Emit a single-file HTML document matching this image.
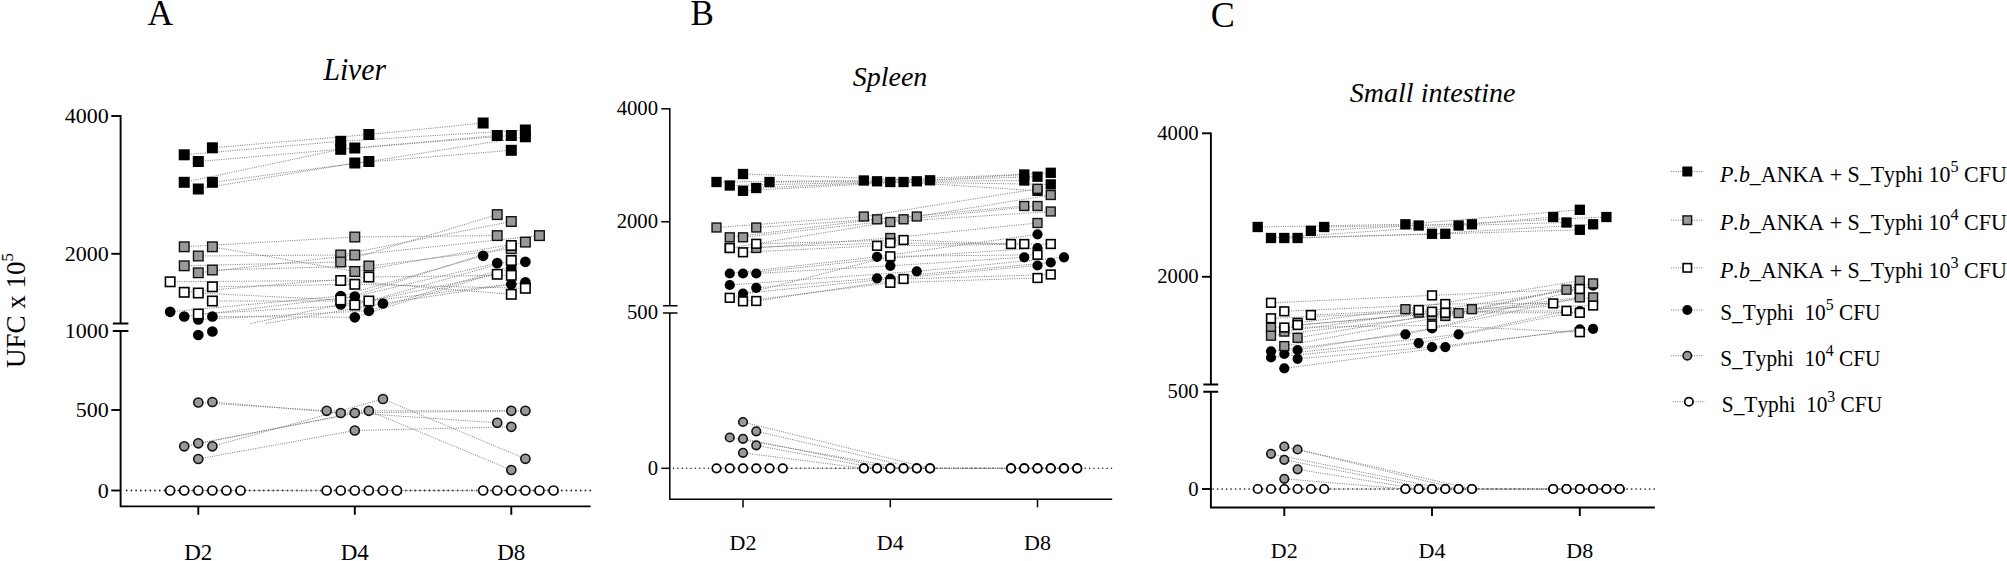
<!DOCTYPE html>
<html lang="en">
<head>
<meta charset="utf-8">
<title>UFC x 10^5 - Liver, Spleen, Small intestine</title>
<style>
html,body{margin:0;padding:0;background:#fff;}
body{width:2007px;height:561px;overflow:hidden;font-family:'Liberation Serif','DejaVu Serif',serif;}
svg{display:block;}
text{font-kerning:none;white-space:pre;}
</style>
</head>
<body>
<svg width="2007" height="561" viewBox="0 0 2007 561" font-family="'Liberation Serif', 'DejaVu Serif', serif" fill="#000">
<rect width="2007" height="561" fill="#fff"/>
<g id="panelA">
<path d="M590.2 490.5H122.6" stroke="#222" stroke-width="1.8" stroke-linecap="round" stroke-dasharray="0.01 4.72" fill="none"/>
<g><path d="M212.38 147.8L368.88 134.5M368.88 134.5L483.14 123" stroke="#7a7a7a" stroke-width="1" stroke-dasharray="1 1.3" fill="none"/><path d="M184.22 154.8L340.72 141.3M340.72 141.3L525.38 130" stroke="#7a7a7a" stroke-width="1" stroke-dasharray="1 1.3" fill="none"/><path d="M198.3 161.5L354.8 148M354.8 148L497.22 135.5" stroke="#7a7a7a" stroke-width="1" stroke-dasharray="1 1.3" fill="none"/><path d="M184.22 182.3L340.72 149.3M340.72 149.3L511.3 135.5" stroke="#7a7a7a" stroke-width="1" stroke-dasharray="1 1.3" fill="none"/><path d="M212.38 182.3L368.88 161.5M368.88 161.5L525.38 136.8" stroke="#7a7a7a" stroke-width="1" stroke-dasharray="1 1.3" fill="none"/><path d="M198.3 189L354.8 163M354.8 163L511.3 150.3" stroke="#7a7a7a" stroke-width="1" stroke-dasharray="1 1.3" fill="none"/><path d="M184.22 246.8L354.8 237M354.8 237L497.22 235.6" stroke="#7a7a7a" stroke-width="1" stroke-dasharray="1 1.3" fill="none"/><path d="M212.38 246.8L354.8 271.5M354.8 271.5L525.38 242.1" stroke="#7a7a7a" stroke-width="1" stroke-dasharray="1 1.3" fill="none"/><path d="M198.3 256L340.72 255M340.72 255L511.3 221.5" stroke="#7a7a7a" stroke-width="1" stroke-dasharray="1 1.3" fill="none"/><path d="M184.22 265.8L340.72 262M340.72 262L497.22 214.6" stroke="#7a7a7a" stroke-width="1" stroke-dasharray="1 1.3" fill="none"/><path d="M198.3 272.8L354.8 255M354.8 255L539.46 235.6" stroke="#7a7a7a" stroke-width="1" stroke-dasharray="1 1.3" fill="none"/><path d="M212.38 270L368.88 266M368.88 266L511.3 248.7" stroke="#7a7a7a" stroke-width="1" stroke-dasharray="1 1.3" fill="none"/><path d="M170.14 281.8L340.72 280.5M340.72 280.5L511.3 294.3" stroke="#7a7a7a" stroke-width="1" stroke-dasharray="1 1.3" fill="none"/><path d="M212.38 286.8L354.8 284.3M354.8 284.3L525.38 288.3" stroke="#7a7a7a" stroke-width="1" stroke-dasharray="1 1.3" fill="none"/><path d="M184.22 292.3L368.88 277M368.88 277L511.3 275.3" stroke="#7a7a7a" stroke-width="1" stroke-dasharray="1 1.3" fill="none"/><path d="M198.3 293L340.72 300M340.72 300L511.3 245.5" stroke="#7a7a7a" stroke-width="1" stroke-dasharray="1 1.3" fill="none"/><path d="M212.38 301L368.88 301M368.88 301L497.22 274.3" stroke="#7a7a7a" stroke-width="1" stroke-dasharray="1 1.3" fill="none"/><path d="M198.3 314L354.8 305M354.8 305L511.3 260.5" stroke="#7a7a7a" stroke-width="1" stroke-dasharray="1 1.3" fill="none"/><path d="M170.14 311.8L340.72 296M340.72 296L483.14 255.8" stroke="#7a7a7a" stroke-width="1" stroke-dasharray="1 1.3" fill="none"/><path d="M184.22 316.5L354.8 296.5M354.8 296.5L497.22 263.1" stroke="#7a7a7a" stroke-width="1" stroke-dasharray="1 1.3" fill="none"/><path d="M198.3 319.5L368.88 310.8M368.88 310.8L525.38 261.8" stroke="#7a7a7a" stroke-width="1" stroke-dasharray="1 1.3" fill="none"/><path d="M212.38 316.5L354.8 317.3M354.8 317.3L511.3 268" stroke="#7a7a7a" stroke-width="1" stroke-dasharray="1 1.3" fill="none"/><path d="M250.41 323.5L340.72 304.5M340.72 304.5L525.38 282.4" stroke="#7a7a7a" stroke-width="1" stroke-dasharray="1 1.3" fill="none"/><path d="M265.72 323.5L382.96 303.5M382.96 303.5L511.3 284.2" stroke="#7a7a7a" stroke-width="1" stroke-dasharray="1 1.3" fill="none"/><path d="M198.3 402.5L326.64 410.8M326.64 410.8L511.3 410.8" stroke="#7a7a7a" stroke-width="1" stroke-dasharray="1 1.3" fill="none"/><path d="M212.38 402L340.72 413M340.72 413L525.38 410.8" stroke="#7a7a7a" stroke-width="1" stroke-dasharray="1 1.3" fill="none"/><path d="M184.22 446.3L354.8 413M354.8 413L497.22 422.8" stroke="#7a7a7a" stroke-width="1" stroke-dasharray="1 1.3" fill="none"/><path d="M198.3 443.3L368.88 410.8M368.88 410.8L511.3 470" stroke="#7a7a7a" stroke-width="1" stroke-dasharray="1 1.3" fill="none"/><path d="M212.38 446.3L382.96 399M382.96 399L525.38 458.8" stroke="#7a7a7a" stroke-width="1" stroke-dasharray="1 1.3" fill="none"/><path d="M198.3 459L354.8 430.5M354.8 430.5L511.3 426.8" stroke="#7a7a7a" stroke-width="1" stroke-dasharray="1 1.3" fill="none"/><path d="M170.14 490.5H553.54" stroke="#7a7a7a" stroke-width="1" stroke-dasharray="1 1.3" fill="none"/></g>
<g><circle cx="170.14" cy="311.8" r="5.35" fill="#000"/><circle cx="184.22" cy="316.5" r="5.35" fill="#000"/><circle cx="198.3" cy="319.5" r="5.35" fill="#000"/><circle cx="212.38" cy="316.5" r="5.35" fill="#000"/><circle cx="212.38" cy="331.5" r="5.35" fill="#000"/><circle cx="198.3" cy="335" r="5.35" fill="#000"/><circle cx="340.72" cy="296" r="5.35" fill="#000"/><circle cx="354.8" cy="296.5" r="5.35" fill="#000"/><circle cx="340.72" cy="304.5" r="5.35" fill="#000"/><circle cx="382.96" cy="303.5" r="5.35" fill="#000"/><circle cx="368.88" cy="310.8" r="5.35" fill="#000"/><circle cx="354.8" cy="317.3" r="5.35" fill="#000"/><circle cx="483.14" cy="255.8" r="5.35" fill="#000"/><circle cx="497.22" cy="263.1" r="5.35" fill="#000"/><circle cx="525.38" cy="261.8" r="5.35" fill="#000"/><circle cx="511.3" cy="268" r="5.35" fill="#000"/><circle cx="525.38" cy="282.4" r="5.35" fill="#000"/><circle cx="511.3" cy="284.2" r="5.35" fill="#000"/></g>
<g><circle cx="198.3" cy="402.5" r="4.55" fill="#999" stroke="#111" stroke-width="1.6"/><circle cx="212.38" cy="402" r="4.55" fill="#999" stroke="#111" stroke-width="1.6"/><circle cx="184.22" cy="446.3" r="4.55" fill="#999" stroke="#111" stroke-width="1.6"/><circle cx="198.3" cy="443.3" r="4.55" fill="#999" stroke="#111" stroke-width="1.6"/><circle cx="212.38" cy="446.3" r="4.55" fill="#999" stroke="#111" stroke-width="1.6"/><circle cx="198.3" cy="459" r="4.55" fill="#999" stroke="#111" stroke-width="1.6"/><circle cx="326.64" cy="410.8" r="4.55" fill="#999" stroke="#111" stroke-width="1.6"/><circle cx="340.72" cy="413" r="4.55" fill="#999" stroke="#111" stroke-width="1.6"/><circle cx="354.8" cy="413" r="4.55" fill="#999" stroke="#111" stroke-width="1.6"/><circle cx="368.88" cy="410.8" r="4.55" fill="#999" stroke="#111" stroke-width="1.6"/><circle cx="382.96" cy="399" r="4.55" fill="#999" stroke="#111" stroke-width="1.6"/><circle cx="354.8" cy="430.5" r="4.55" fill="#999" stroke="#111" stroke-width="1.6"/><circle cx="511.3" cy="410.8" r="4.55" fill="#999" stroke="#111" stroke-width="1.6"/><circle cx="525.38" cy="410.8" r="4.55" fill="#999" stroke="#111" stroke-width="1.6"/><circle cx="497.22" cy="422.8" r="4.55" fill="#999" stroke="#111" stroke-width="1.6"/><circle cx="511.3" cy="426.8" r="4.55" fill="#999" stroke="#111" stroke-width="1.6"/><circle cx="525.38" cy="458.8" r="4.55" fill="#999" stroke="#111" stroke-width="1.6"/><circle cx="511.3" cy="470" r="4.55" fill="#999" stroke="#111" stroke-width="1.6"/></g>
<g><circle cx="170.14" cy="490.5" r="4.5" fill="#fff" stroke="#000" stroke-width="1.7"/><circle cx="184.22" cy="490.5" r="4.5" fill="#fff" stroke="#000" stroke-width="1.7"/><circle cx="198.3" cy="490.5" r="4.5" fill="#fff" stroke="#000" stroke-width="1.7"/><circle cx="212.38" cy="490.5" r="4.5" fill="#fff" stroke="#000" stroke-width="1.7"/><circle cx="226.46" cy="490.5" r="4.5" fill="#fff" stroke="#000" stroke-width="1.7"/><circle cx="240.54" cy="490.5" r="4.5" fill="#fff" stroke="#000" stroke-width="1.7"/><circle cx="326.64" cy="490.5" r="4.5" fill="#fff" stroke="#000" stroke-width="1.7"/><circle cx="340.72" cy="490.5" r="4.5" fill="#fff" stroke="#000" stroke-width="1.7"/><circle cx="354.8" cy="490.5" r="4.5" fill="#fff" stroke="#000" stroke-width="1.7"/><circle cx="368.88" cy="490.5" r="4.5" fill="#fff" stroke="#000" stroke-width="1.7"/><circle cx="382.96" cy="490.5" r="4.5" fill="#fff" stroke="#000" stroke-width="1.7"/><circle cx="397.04" cy="490.5" r="4.5" fill="#fff" stroke="#000" stroke-width="1.7"/><circle cx="483.14" cy="490.5" r="4.5" fill="#fff" stroke="#000" stroke-width="1.7"/><circle cx="497.22" cy="490.5" r="4.5" fill="#fff" stroke="#000" stroke-width="1.7"/><circle cx="511.3" cy="490.5" r="4.5" fill="#fff" stroke="#000" stroke-width="1.7"/><circle cx="525.38" cy="490.5" r="4.5" fill="#fff" stroke="#000" stroke-width="1.7"/><circle cx="539.46" cy="490.5" r="4.5" fill="#fff" stroke="#000" stroke-width="1.7"/><circle cx="553.54" cy="490.5" r="4.5" fill="#fff" stroke="#000" stroke-width="1.7"/></g>
<g><rect x="178.72" y="149.3" width="11" height="11" fill="#000"/><rect x="192.8" y="156" width="11" height="11" fill="#000"/><rect x="206.88" y="142.3" width="11" height="11" fill="#000"/><rect x="178.72" y="176.8" width="11" height="11" fill="#000"/><rect x="192.8" y="183.5" width="11" height="11" fill="#000"/><rect x="206.88" y="176.8" width="11" height="11" fill="#000"/><rect x="335.22" y="135.8" width="11" height="11" fill="#000"/><rect x="335.22" y="143.8" width="11" height="11" fill="#000"/><rect x="349.3" y="142.5" width="11" height="11" fill="#000"/><rect x="363.38" y="129" width="11" height="11" fill="#000"/><rect x="349.3" y="157.5" width="11" height="11" fill="#000"/><rect x="363.38" y="156" width="11" height="11" fill="#000"/><rect x="477.64" y="117.5" width="11" height="11" fill="#000"/><rect x="491.72" y="130" width="11" height="11" fill="#000"/><rect x="505.8" y="130" width="11" height="11" fill="#000"/><rect x="519.88" y="124.5" width="11" height="11" fill="#000"/><rect x="519.88" y="131.3" width="11" height="11" fill="#000"/><rect x="505.8" y="144.8" width="11" height="11" fill="#000"/></g>
<g><rect x="179.42" y="242" width="9.6" height="9.6" fill="#999" stroke="#111" stroke-width="1.4"/><rect x="193.5" y="251.2" width="9.6" height="9.6" fill="#999" stroke="#111" stroke-width="1.4"/><rect x="207.58" y="242" width="9.6" height="9.6" fill="#999" stroke="#111" stroke-width="1.4"/><rect x="179.42" y="261" width="9.6" height="9.6" fill="#999" stroke="#111" stroke-width="1.4"/><rect x="193.5" y="268" width="9.6" height="9.6" fill="#999" stroke="#111" stroke-width="1.4"/><rect x="207.58" y="265.2" width="9.6" height="9.6" fill="#999" stroke="#111" stroke-width="1.4"/><rect x="350" y="232.2" width="9.6" height="9.6" fill="#999" stroke="#111" stroke-width="1.4"/><rect x="335.92" y="250.2" width="9.6" height="9.6" fill="#999" stroke="#111" stroke-width="1.4"/><rect x="350" y="250.2" width="9.6" height="9.6" fill="#999" stroke="#111" stroke-width="1.4"/><rect x="335.92" y="257.2" width="9.6" height="9.6" fill="#999" stroke="#111" stroke-width="1.4"/><rect x="350" y="266.7" width="9.6" height="9.6" fill="#999" stroke="#111" stroke-width="1.4"/><rect x="364.08" y="261.2" width="9.6" height="9.6" fill="#999" stroke="#111" stroke-width="1.4"/><rect x="492.42" y="209.8" width="9.6" height="9.6" fill="#999" stroke="#111" stroke-width="1.4"/><rect x="506.5" y="216.7" width="9.6" height="9.6" fill="#999" stroke="#111" stroke-width="1.4"/><rect x="492.42" y="230.8" width="9.6" height="9.6" fill="#999" stroke="#111" stroke-width="1.4"/><rect x="534.66" y="230.8" width="9.6" height="9.6" fill="#999" stroke="#111" stroke-width="1.4"/><rect x="520.58" y="237.3" width="9.6" height="9.6" fill="#999" stroke="#111" stroke-width="1.4"/><rect x="506.5" y="243.9" width="9.6" height="9.6" fill="#999" stroke="#111" stroke-width="1.4"/></g>
<g><rect x="165.44" y="277.1" width="9.4" height="9.4" fill="#fff" stroke="#000" stroke-width="1.6"/><rect x="179.52" y="287.6" width="9.4" height="9.4" fill="#fff" stroke="#000" stroke-width="1.6"/><rect x="193.6" y="288.3" width="9.4" height="9.4" fill="#fff" stroke="#000" stroke-width="1.6"/><rect x="207.68" y="282.1" width="9.4" height="9.4" fill="#fff" stroke="#000" stroke-width="1.6"/><rect x="207.68" y="296.3" width="9.4" height="9.4" fill="#fff" stroke="#000" stroke-width="1.6"/><rect x="193.6" y="309.3" width="9.4" height="9.4" fill="#fff" stroke="#000" stroke-width="1.6"/><rect x="336.02" y="275.8" width="9.4" height="9.4" fill="#fff" stroke="#000" stroke-width="1.6"/><rect x="350.1" y="279.6" width="9.4" height="9.4" fill="#fff" stroke="#000" stroke-width="1.6"/><rect x="364.18" y="272.3" width="9.4" height="9.4" fill="#fff" stroke="#000" stroke-width="1.6"/><rect x="336.02" y="295.3" width="9.4" height="9.4" fill="#fff" stroke="#000" stroke-width="1.6"/><rect x="350.1" y="300.3" width="9.4" height="9.4" fill="#fff" stroke="#000" stroke-width="1.6"/><rect x="364.18" y="296.3" width="9.4" height="9.4" fill="#fff" stroke="#000" stroke-width="1.6"/><rect x="506.6" y="240.8" width="9.4" height="9.4" fill="#fff" stroke="#000" stroke-width="1.6"/><rect x="506.6" y="255.8" width="9.4" height="9.4" fill="#fff" stroke="#000" stroke-width="1.6"/><rect x="492.52" y="269.6" width="9.4" height="9.4" fill="#fff" stroke="#000" stroke-width="1.6"/><rect x="506.6" y="270.6" width="9.4" height="9.4" fill="#fff" stroke="#000" stroke-width="1.6"/><rect x="520.68" y="283.6" width="9.4" height="9.4" fill="#fff" stroke="#000" stroke-width="1.6"/><rect x="506.6" y="289.6" width="9.4" height="9.4" fill="#fff" stroke="#000" stroke-width="1.6"/></g>
<path d="M120.6 115.05V323.5M120.6 331V506.4H590.6" stroke="#000" stroke-width="1.9" fill="none" stroke-linejoin="miter"/>
<path d="M112.8 323.5H128.4M112.8 331H128.4" stroke="#000" stroke-width="1.9" fill="none"/>
<line x1="111.3" y1="116" x2="120.6" y2="116" stroke="#000" stroke-width="1.9"/>
<text x="108.7" y="123" font-size="22" text-anchor="end">4000</text>
<line x1="111.3" y1="253.8" x2="120.6" y2="253.8" stroke="#000" stroke-width="1.9"/>
<text x="108.7" y="260.8" font-size="22" text-anchor="end">2000</text>
<text x="108.7" y="337.8" font-size="22" text-anchor="end">1000</text>
<line x1="111.3" y1="410" x2="120.6" y2="410" stroke="#000" stroke-width="1.9"/>
<text x="108.7" y="417" font-size="22" text-anchor="end">500</text>
<line x1="111.3" y1="490.5" x2="120.6" y2="490.5" stroke="#000" stroke-width="1.9"/>
<text x="108.7" y="497.5" font-size="22" text-anchor="end">0</text>
<line x1="198.3" y1="506.4" x2="198.3" y2="514.8" stroke="#000" stroke-width="1.9"/>
<text x="198.3" y="559.8" font-size="23" text-anchor="middle">D2</text>
<line x1="354.8" y1="506.4" x2="354.8" y2="514.8" stroke="#000" stroke-width="1.9"/>
<text x="354.8" y="559.8" font-size="23" text-anchor="middle">D4</text>
<line x1="511.3" y1="506.4" x2="511.3" y2="514.8" stroke="#000" stroke-width="1.9"/>
<text x="511.3" y="559.8" font-size="23" text-anchor="middle">D8</text>
</g>
<g id="panelB">
<path d="M1111.5 468.3H671.8" stroke="#222" stroke-width="1.5" stroke-linecap="round" stroke-dasharray="0.01 4.37" fill="none"/>
<g><path d="M743 174L930.05 180.3M930.05 180.3L1050.75 172.8" stroke="#7a7a7a" stroke-width="1" stroke-dasharray="1 1.3" fill="none"/><path d="M716.5 182L863.8 180.5M863.8 180.5L1024.25 174.5" stroke="#7a7a7a" stroke-width="1" stroke-dasharray="1 1.3" fill="none"/><path d="M769.5 182L877.05 181.3M877.05 181.3L1037.5 176.7" stroke="#7a7a7a" stroke-width="1" stroke-dasharray="1 1.3" fill="none"/><path d="M729.75 185.5L916.8 181.3M916.8 181.3L1024.25 180.5" stroke="#7a7a7a" stroke-width="1" stroke-dasharray="1 1.3" fill="none"/><path d="M756.25 188L890.3 182M890.3 182L1050.75 184.4" stroke="#7a7a7a" stroke-width="1" stroke-dasharray="1 1.3" fill="none"/><path d="M743 190.8L903.55 182M903.55 182L1037.5 190.8" stroke="#7a7a7a" stroke-width="1" stroke-dasharray="1 1.3" fill="none"/><path d="M716.5 227.5L863.8 216.5M863.8 216.5L1037.5 188.8" stroke="#7a7a7a" stroke-width="1" stroke-dasharray="1 1.3" fill="none"/><path d="M756.25 227.5L916.8 216.5M916.8 216.5L1050.75 195" stroke="#7a7a7a" stroke-width="1" stroke-dasharray="1 1.3" fill="none"/><path d="M729.75 237.3L877.05 219.3M877.05 219.3L1024.25 206" stroke="#7a7a7a" stroke-width="1" stroke-dasharray="1 1.3" fill="none"/><path d="M743 237.3L903.55 219.3M903.55 219.3L1037.5 206" stroke="#7a7a7a" stroke-width="1" stroke-dasharray="1 1.3" fill="none"/><path d="M729.75 248L890.3 222M890.3 222L1050.75 211.5" stroke="#7a7a7a" stroke-width="1" stroke-dasharray="1 1.3" fill="none"/><path d="M756.25 248L890.3 238M890.3 238L1037.5 223" stroke="#7a7a7a" stroke-width="1" stroke-dasharray="1 1.3" fill="none"/><path d="M756.25 243.8L903.55 240M903.55 240L1011 244" stroke="#7a7a7a" stroke-width="1" stroke-dasharray="1 1.3" fill="none"/><path d="M729.75 248L890.3 243M890.3 243L1024.25 244" stroke="#7a7a7a" stroke-width="1" stroke-dasharray="1 1.3" fill="none"/><path d="M743 252.3L877.05 245.8M877.05 245.8L1050.75 244" stroke="#7a7a7a" stroke-width="1" stroke-dasharray="1 1.3" fill="none"/><path d="M729.75 297.8L890.3 256.3M890.3 256.3L1037.5 254.8" stroke="#7a7a7a" stroke-width="1" stroke-dasharray="1 1.3" fill="none"/><path d="M756.25 301L903.55 279M903.55 279L1050.75 274.5" stroke="#7a7a7a" stroke-width="1" stroke-dasharray="1 1.3" fill="none"/><path d="M743 301.3L890.3 282.8M890.3 282.8L1037.5 278" stroke="#7a7a7a" stroke-width="1" stroke-dasharray="1 1.3" fill="none"/><path d="M729.75 273.5L877.05 256.8M877.05 256.8L1037.5 234.3" stroke="#7a7a7a" stroke-width="1" stroke-dasharray="1 1.3" fill="none"/><path d="M743 273.5L890.3 258M890.3 258L1037.5 248" stroke="#7a7a7a" stroke-width="1" stroke-dasharray="1 1.3" fill="none"/><path d="M756.25 273.5L890.3 265.8M890.3 265.8L1024.25 257.3" stroke="#7a7a7a" stroke-width="1" stroke-dasharray="1 1.3" fill="none"/><path d="M729.75 285L916.8 271.3M916.8 271.3L1064 257.3" stroke="#7a7a7a" stroke-width="1" stroke-dasharray="1 1.3" fill="none"/><path d="M756.25 287.8L877.05 278.3M877.05 278.3L1050.75 262.5" stroke="#7a7a7a" stroke-width="1" stroke-dasharray="1 1.3" fill="none"/><path d="M743 293.5L890.3 278.8M890.3 278.8L1037.5 265.5" stroke="#7a7a7a" stroke-width="1" stroke-dasharray="1 1.3" fill="none"/><path d="M743 422L930.05 468.3M930.05 468.3L1077.25 468.3" stroke="#7a7a7a" stroke-width="1" stroke-dasharray="1 1.3" fill="none"/><path d="M756.25 431.3L916.8 468.3M916.8 468.3L1064 468.3" stroke="#7a7a7a" stroke-width="1" stroke-dasharray="1 1.3" fill="none"/><path d="M729.75 437.5L903.55 468.3" stroke="#7a7a7a" stroke-width="1" stroke-dasharray="1 1.3" fill="none"/><path d="M743 438.8L890.3 468.3" stroke="#7a7a7a" stroke-width="1" stroke-dasharray="1 1.3" fill="none"/><path d="M756.25 445.3L877.05 468.3" stroke="#7a7a7a" stroke-width="1" stroke-dasharray="1 1.3" fill="none"/><path d="M743 452.8L863.8 468.3" stroke="#7a7a7a" stroke-width="1" stroke-dasharray="1 1.3" fill="none"/><path d="M716.5 468.3H1077.25" stroke="#7a7a7a" stroke-width="1" stroke-dasharray="1 1.3" fill="none"/></g>
<g><circle cx="729.75" cy="273.5" r="5.1" fill="#000"/><circle cx="743" cy="273.5" r="5.1" fill="#000"/><circle cx="756.25" cy="273.5" r="5.1" fill="#000"/><circle cx="729.75" cy="285" r="5.1" fill="#000"/><circle cx="756.25" cy="287.8" r="5.1" fill="#000"/><circle cx="743" cy="293.5" r="5.1" fill="#000"/><circle cx="877.05" cy="256.8" r="5.1" fill="#000"/><circle cx="890.3" cy="265.8" r="5.1" fill="#000"/><circle cx="916.8" cy="271.3" r="5.1" fill="#000"/><circle cx="877.05" cy="278.3" r="5.1" fill="#000"/><circle cx="890.3" cy="278.8" r="5.1" fill="#000"/><circle cx="890.3" cy="258" r="5.1" fill="#000"/><circle cx="1037.5" cy="234.3" r="5.1" fill="#000"/><circle cx="1037.5" cy="248" r="5.1" fill="#000"/><circle cx="1024.25" cy="257.3" r="5.1" fill="#000"/><circle cx="1064" cy="257.3" r="5.1" fill="#000"/><circle cx="1050.75" cy="262.5" r="5.1" fill="#000"/><circle cx="1037.5" cy="265.5" r="5.1" fill="#000"/></g>
<g><circle cx="743" cy="422" r="4.3" fill="#999" stroke="#111" stroke-width="1.6"/><circle cx="756.25" cy="431.3" r="4.3" fill="#999" stroke="#111" stroke-width="1.6"/><circle cx="729.75" cy="437.5" r="4.3" fill="#999" stroke="#111" stroke-width="1.6"/><circle cx="743" cy="438.8" r="4.3" fill="#999" stroke="#111" stroke-width="1.6"/><circle cx="756.25" cy="445.3" r="4.3" fill="#999" stroke="#111" stroke-width="1.6"/><circle cx="743" cy="452.8" r="4.3" fill="#999" stroke="#111" stroke-width="1.6"/><circle cx="863.8" cy="468.3" r="4.3" fill="#999" stroke="#111" stroke-width="1.6"/><circle cx="877.05" cy="468.3" r="4.3" fill="#999" stroke="#111" stroke-width="1.6"/><circle cx="890.3" cy="468.3" r="4.3" fill="#999" stroke="#111" stroke-width="1.6"/><circle cx="903.55" cy="468.3" r="4.3" fill="#999" stroke="#111" stroke-width="1.6"/><circle cx="916.8" cy="468.3" r="4.3" fill="#999" stroke="#111" stroke-width="1.6"/><circle cx="930.05" cy="468.3" r="4.3" fill="#999" stroke="#111" stroke-width="1.6"/><circle cx="1011" cy="468.3" r="4.3" fill="#999" stroke="#111" stroke-width="1.6"/><circle cx="1024.25" cy="468.3" r="4.3" fill="#999" stroke="#111" stroke-width="1.6"/><circle cx="1037.5" cy="468.3" r="4.3" fill="#999" stroke="#111" stroke-width="1.6"/><circle cx="1050.75" cy="468.3" r="4.3" fill="#999" stroke="#111" stroke-width="1.6"/><circle cx="1064" cy="468.3" r="4.3" fill="#999" stroke="#111" stroke-width="1.6"/><circle cx="1077.25" cy="468.3" r="4.3" fill="#999" stroke="#111" stroke-width="1.6"/></g>
<g><circle cx="716.5" cy="468.3" r="4.25" fill="#fff" stroke="#000" stroke-width="1.7"/><circle cx="729.75" cy="468.3" r="4.25" fill="#fff" stroke="#000" stroke-width="1.7"/><circle cx="743" cy="468.3" r="4.25" fill="#fff" stroke="#000" stroke-width="1.7"/><circle cx="756.25" cy="468.3" r="4.25" fill="#fff" stroke="#000" stroke-width="1.7"/><circle cx="769.5" cy="468.3" r="4.25" fill="#fff" stroke="#000" stroke-width="1.7"/><circle cx="782.75" cy="468.3" r="4.25" fill="#fff" stroke="#000" stroke-width="1.7"/><circle cx="863.8" cy="468.3" r="4.25" fill="#fff" stroke="#000" stroke-width="1.7"/><circle cx="877.05" cy="468.3" r="4.25" fill="#fff" stroke="#000" stroke-width="1.7"/><circle cx="890.3" cy="468.3" r="4.25" fill="#fff" stroke="#000" stroke-width="1.7"/><circle cx="903.55" cy="468.3" r="4.25" fill="#fff" stroke="#000" stroke-width="1.7"/><circle cx="916.8" cy="468.3" r="4.25" fill="#fff" stroke="#000" stroke-width="1.7"/><circle cx="930.05" cy="468.3" r="4.25" fill="#fff" stroke="#000" stroke-width="1.7"/><circle cx="1011" cy="468.3" r="4.25" fill="#fff" stroke="#000" stroke-width="1.7"/><circle cx="1024.25" cy="468.3" r="4.25" fill="#fff" stroke="#000" stroke-width="1.7"/><circle cx="1037.5" cy="468.3" r="4.25" fill="#fff" stroke="#000" stroke-width="1.7"/><circle cx="1050.75" cy="468.3" r="4.25" fill="#fff" stroke="#000" stroke-width="1.7"/><circle cx="1064" cy="468.3" r="4.25" fill="#fff" stroke="#000" stroke-width="1.7"/><circle cx="1077.25" cy="468.3" r="4.25" fill="#fff" stroke="#000" stroke-width="1.7"/></g>
<g><rect x="711.35" y="176.85" width="10.3" height="10.3" fill="#000"/><rect x="724.6" y="180.35" width="10.3" height="10.3" fill="#000"/><rect x="737.85" y="168.85" width="10.3" height="10.3" fill="#000"/><rect x="737.85" y="185.65" width="10.3" height="10.3" fill="#000"/><rect x="751.1" y="182.85" width="10.3" height="10.3" fill="#000"/><rect x="764.35" y="176.85" width="10.3" height="10.3" fill="#000"/><rect x="858.65" y="175.35" width="10.3" height="10.3" fill="#000"/><rect x="871.9" y="176.15" width="10.3" height="10.3" fill="#000"/><rect x="885.15" y="176.85" width="10.3" height="10.3" fill="#000"/><rect x="898.4" y="176.85" width="10.3" height="10.3" fill="#000"/><rect x="911.65" y="176.15" width="10.3" height="10.3" fill="#000"/><rect x="924.9" y="175.15" width="10.3" height="10.3" fill="#000"/><rect x="1019.1" y="169.35" width="10.3" height="10.3" fill="#000"/><rect x="1019.1" y="175.35" width="10.3" height="10.3" fill="#000"/><rect x="1032.35" y="171.55" width="10.3" height="10.3" fill="#000"/><rect x="1045.6" y="167.65" width="10.3" height="10.3" fill="#000"/><rect x="1045.6" y="179.25" width="10.3" height="10.3" fill="#000"/><rect x="1032.35" y="185.65" width="10.3" height="10.3" fill="#000"/></g>
<g><rect x="712.05" y="223.05" width="8.9" height="8.9" fill="#999" stroke="#111" stroke-width="1.4"/><rect x="751.8" y="223.05" width="8.9" height="8.9" fill="#999" stroke="#111" stroke-width="1.4"/><rect x="725.3" y="232.85" width="8.9" height="8.9" fill="#999" stroke="#111" stroke-width="1.4"/><rect x="738.55" y="232.85" width="8.9" height="8.9" fill="#999" stroke="#111" stroke-width="1.4"/><rect x="751.8" y="243.55" width="8.9" height="8.9" fill="#999" stroke="#111" stroke-width="1.4"/><rect x="725.3" y="243.55" width="8.9" height="8.9" fill="#999" stroke="#111" stroke-width="1.4"/><rect x="859.35" y="212.05" width="8.9" height="8.9" fill="#999" stroke="#111" stroke-width="1.4"/><rect x="872.6" y="214.85" width="8.9" height="8.9" fill="#999" stroke="#111" stroke-width="1.4"/><rect x="885.85" y="217.55" width="8.9" height="8.9" fill="#999" stroke="#111" stroke-width="1.4"/><rect x="899.1" y="214.85" width="8.9" height="8.9" fill="#999" stroke="#111" stroke-width="1.4"/><rect x="912.35" y="212.05" width="8.9" height="8.9" fill="#999" stroke="#111" stroke-width="1.4"/><rect x="885.85" y="233.55" width="8.9" height="8.9" fill="#999" stroke="#111" stroke-width="1.4"/><rect x="1033.05" y="184.35" width="8.9" height="8.9" fill="#999" stroke="#111" stroke-width="1.4"/><rect x="1046.3" y="190.55" width="8.9" height="8.9" fill="#999" stroke="#111" stroke-width="1.4"/><rect x="1019.8" y="201.55" width="8.9" height="8.9" fill="#999" stroke="#111" stroke-width="1.4"/><rect x="1033.05" y="201.55" width="8.9" height="8.9" fill="#999" stroke="#111" stroke-width="1.4"/><rect x="1046.3" y="207.05" width="8.9" height="8.9" fill="#999" stroke="#111" stroke-width="1.4"/><rect x="1033.05" y="218.55" width="8.9" height="8.9" fill="#999" stroke="#111" stroke-width="1.4"/></g>
<g><rect x="725.4" y="243.65" width="8.7" height="8.7" fill="#fff" stroke="#000" stroke-width="1.6"/><rect x="738.65" y="247.95" width="8.7" height="8.7" fill="#fff" stroke="#000" stroke-width="1.6"/><rect x="751.9" y="239.45" width="8.7" height="8.7" fill="#fff" stroke="#000" stroke-width="1.6"/><rect x="725.4" y="293.45" width="8.7" height="8.7" fill="#fff" stroke="#000" stroke-width="1.6"/><rect x="738.65" y="296.95" width="8.7" height="8.7" fill="#fff" stroke="#000" stroke-width="1.6"/><rect x="751.9" y="296.65" width="8.7" height="8.7" fill="#fff" stroke="#000" stroke-width="1.6"/><rect x="872.7" y="241.45" width="8.7" height="8.7" fill="#fff" stroke="#000" stroke-width="1.6"/><rect x="885.95" y="238.65" width="8.7" height="8.7" fill="#fff" stroke="#000" stroke-width="1.6"/><rect x="899.2" y="235.65" width="8.7" height="8.7" fill="#fff" stroke="#000" stroke-width="1.6"/><rect x="885.95" y="251.95" width="8.7" height="8.7" fill="#fff" stroke="#000" stroke-width="1.6"/><rect x="885.95" y="278.45" width="8.7" height="8.7" fill="#fff" stroke="#000" stroke-width="1.6"/><rect x="899.2" y="274.65" width="8.7" height="8.7" fill="#fff" stroke="#000" stroke-width="1.6"/><rect x="1006.65" y="239.65" width="8.7" height="8.7" fill="#fff" stroke="#000" stroke-width="1.6"/><rect x="1019.9" y="239.65" width="8.7" height="8.7" fill="#fff" stroke="#000" stroke-width="1.6"/><rect x="1046.4" y="239.65" width="8.7" height="8.7" fill="#fff" stroke="#000" stroke-width="1.6"/><rect x="1033.15" y="250.45" width="8.7" height="8.7" fill="#fff" stroke="#000" stroke-width="1.6"/><rect x="1033.15" y="273.65" width="8.7" height="8.7" fill="#fff" stroke="#000" stroke-width="1.6"/><rect x="1046.4" y="270.15" width="8.7" height="8.7" fill="#fff" stroke="#000" stroke-width="1.6"/></g>
<path d="M669.8 108.05V305.8M669.8 313V499.2H1112.2" stroke="#000" stroke-width="1.5" fill="none" stroke-linejoin="miter"/>
<path d="M663 305.8H677.5M663 313H677.5" stroke="#000" stroke-width="1.5" fill="none"/>
<line x1="661.3" y1="108.8" x2="669.8" y2="108.8" stroke="#000" stroke-width="1.5"/>
<text x="658" y="115.2" font-size="20.7" text-anchor="end">4000</text>
<line x1="661.3" y1="221.8" x2="669.8" y2="221.8" stroke="#000" stroke-width="1.5"/>
<text x="658" y="228.2" font-size="20.7" text-anchor="end">2000</text>
<text x="658" y="319.4" font-size="20.7" text-anchor="end">500</text>
<line x1="661.3" y1="468.3" x2="669.8" y2="468.3" stroke="#000" stroke-width="1.5"/>
<text x="658" y="474.7" font-size="20.7" text-anchor="end">0</text>
<line x1="743" y1="499.2" x2="743" y2="507.4" stroke="#000" stroke-width="1.5"/>
<text x="743" y="549.5" font-size="22" text-anchor="middle">D2</text>
<line x1="890.3" y1="499.2" x2="890.3" y2="507.4" stroke="#000" stroke-width="1.5"/>
<text x="890.3" y="549.5" font-size="22" text-anchor="middle">D4</text>
<line x1="1037.5" y1="499.2" x2="1037.5" y2="507.4" stroke="#000" stroke-width="1.5"/>
<text x="1037.5" y="549.5" font-size="22" text-anchor="middle">D8</text>
</g>
<g id="panelC">
<path d="M1654.1 489H1212.9" stroke="#222" stroke-width="1.7" stroke-linecap="round" stroke-dasharray="0.01 4.49" fill="none"/>
<g><path d="M1257.7 227L1405.4 224.3M1405.4 224.3L1579.8 209.8" stroke="#7a7a7a" stroke-width="1" stroke-dasharray="1 1.3" fill="none"/><path d="M1324.2 227L1471.9 224.3M1471.9 224.3L1553.2 217" stroke="#7a7a7a" stroke-width="1" stroke-dasharray="1 1.3" fill="none"/><path d="M1310.9 230.8L1418.7 225.5M1418.7 225.5L1606.4 217" stroke="#7a7a7a" stroke-width="1" stroke-dasharray="1 1.3" fill="none"/><path d="M1271 238L1458.6 225.5M1458.6 225.5L1566.5 222.5" stroke="#7a7a7a" stroke-width="1" stroke-dasharray="1 1.3" fill="none"/><path d="M1284.3 238L1432 233.8M1432 233.8L1593.1 224.3" stroke="#7a7a7a" stroke-width="1" stroke-dasharray="1 1.3" fill="none"/><path d="M1297.6 238L1445.3 233.8M1445.3 233.8L1579.8 229.8" stroke="#7a7a7a" stroke-width="1" stroke-dasharray="1 1.3" fill="none"/><path d="M1297.6 322.8L1405.4 309.2M1405.4 309.2L1579.8 280.7" stroke="#7a7a7a" stroke-width="1" stroke-dasharray="1 1.3" fill="none"/><path d="M1271 327.7L1471.9 309.2M1471.9 309.2L1593.1 283.4" stroke="#7a7a7a" stroke-width="1" stroke-dasharray="1 1.3" fill="none"/><path d="M1284.3 331.6L1418.7 312.6M1418.7 312.6L1579.8 289" stroke="#7a7a7a" stroke-width="1" stroke-dasharray="1 1.3" fill="none"/><path d="M1271 335.7L1458.6 313.1M1458.6 313.1L1566.5 289.7" stroke="#7a7a7a" stroke-width="1" stroke-dasharray="1 1.3" fill="none"/><path d="M1297.6 337.8L1432 315.2M1432 315.2L1579.8 297.4" stroke="#7a7a7a" stroke-width="1" stroke-dasharray="1 1.3" fill="none"/><path d="M1284.3 346.1L1445.3 316M1445.3 316L1593.1 297.4" stroke="#7a7a7a" stroke-width="1" stroke-dasharray="1 1.3" fill="none"/><path d="M1271 302.8L1432 295.4M1432 295.4L1579.8 289" stroke="#7a7a7a" stroke-width="1" stroke-dasharray="1 1.3" fill="none"/><path d="M1284.3 311.3L1445.3 304M1445.3 304L1553.2 303.4" stroke="#7a7a7a" stroke-width="1" stroke-dasharray="1 1.3" fill="none"/><path d="M1310.9 315L1418.7 310M1418.7 310L1593.1 305.5" stroke="#7a7a7a" stroke-width="1" stroke-dasharray="1 1.3" fill="none"/><path d="M1271 318.3L1432 311.7M1432 311.7L1566.5 310.8" stroke="#7a7a7a" stroke-width="1" stroke-dasharray="1 1.3" fill="none"/><path d="M1297.6 325L1445.3 312.8M1445.3 312.8L1579.8 312.8" stroke="#7a7a7a" stroke-width="1" stroke-dasharray="1 1.3" fill="none"/><path d="M1284.3 327.5L1432 325.4M1432 325.4L1579.8 332.2" stroke="#7a7a7a" stroke-width="1" stroke-dasharray="1 1.3" fill="none"/><path d="M1297.6 350L1432 328.5M1432 328.5L1593.1 285.6" stroke="#7a7a7a" stroke-width="1" stroke-dasharray="1 1.3" fill="none"/><path d="M1271 351.3L1405.4 334.3M1405.4 334.3L1579.8 297.4" stroke="#7a7a7a" stroke-width="1" stroke-dasharray="1 1.3" fill="none"/><path d="M1284.3 354L1458.6 334.3M1458.6 334.3L1566.5 311" stroke="#7a7a7a" stroke-width="1" stroke-dasharray="1 1.3" fill="none"/><path d="M1271 357.5L1418.7 343.1M1418.7 343.1L1579.8 311" stroke="#7a7a7a" stroke-width="1" stroke-dasharray="1 1.3" fill="none"/><path d="M1297.6 358.8L1432 347.1M1432 347.1L1593.1 328.9" stroke="#7a7a7a" stroke-width="1" stroke-dasharray="1 1.3" fill="none"/><path d="M1284.3 368.3L1445.3 347.1M1445.3 347.1L1579.8 329.3" stroke="#7a7a7a" stroke-width="1" stroke-dasharray="1 1.3" fill="none"/><path d="M1284.3 446.5L1471.9 489M1471.9 489L1619.7 489" stroke="#7a7a7a" stroke-width="1" stroke-dasharray="1 1.3" fill="none"/><path d="M1297.6 449.5L1458.6 489M1458.6 489L1606.4 489" stroke="#7a7a7a" stroke-width="1" stroke-dasharray="1 1.3" fill="none"/><path d="M1271 453.8L1445.3 489" stroke="#7a7a7a" stroke-width="1" stroke-dasharray="1 1.3" fill="none"/><path d="M1284.3 459.8L1432 489" stroke="#7a7a7a" stroke-width="1" stroke-dasharray="1 1.3" fill="none"/><path d="M1297.6 469.3L1418.7 489" stroke="#7a7a7a" stroke-width="1" stroke-dasharray="1 1.3" fill="none"/><path d="M1284.3 478.8L1405.4 489" stroke="#7a7a7a" stroke-width="1" stroke-dasharray="1 1.3" fill="none"/><path d="M1257.7 489H1619.7" stroke="#7a7a7a" stroke-width="1" stroke-dasharray="1 1.3" fill="none"/></g>
<g><circle cx="1271" cy="351.3" r="5.1" fill="#000"/><circle cx="1271" cy="357.5" r="5.1" fill="#000"/><circle cx="1284.3" cy="354" r="5.1" fill="#000"/><circle cx="1297.6" cy="350" r="5.1" fill="#000"/><circle cx="1297.6" cy="358.8" r="5.1" fill="#000"/><circle cx="1284.3" cy="368.3" r="5.1" fill="#000"/><circle cx="1405.4" cy="334.3" r="5.1" fill="#000"/><circle cx="1418.7" cy="343.1" r="5.1" fill="#000"/><circle cx="1432" cy="347.1" r="5.1" fill="#000"/><circle cx="1445.3" cy="347.1" r="5.1" fill="#000"/><circle cx="1458.6" cy="334.3" r="5.1" fill="#000"/><circle cx="1432" cy="328.5" r="5.1" fill="#000"/><circle cx="1593.1" cy="285.6" r="5.1" fill="#000"/><circle cx="1566.5" cy="311" r="5.1" fill="#000"/><circle cx="1579.8" cy="311" r="5.1" fill="#000"/><circle cx="1579.8" cy="329.3" r="5.1" fill="#000"/><circle cx="1593.1" cy="328.9" r="5.1" fill="#000"/><circle cx="1579.8" cy="297.4" r="5.1" fill="#000"/></g>
<g><circle cx="1284.3" cy="446.5" r="4.3" fill="#999" stroke="#111" stroke-width="1.6"/><circle cx="1297.6" cy="449.5" r="4.3" fill="#999" stroke="#111" stroke-width="1.6"/><circle cx="1271" cy="453.8" r="4.3" fill="#999" stroke="#111" stroke-width="1.6"/><circle cx="1284.3" cy="459.8" r="4.3" fill="#999" stroke="#111" stroke-width="1.6"/><circle cx="1297.6" cy="469.3" r="4.3" fill="#999" stroke="#111" stroke-width="1.6"/><circle cx="1284.3" cy="478.8" r="4.3" fill="#999" stroke="#111" stroke-width="1.6"/><circle cx="1405.4" cy="489" r="4.3" fill="#999" stroke="#111" stroke-width="1.6"/><circle cx="1418.7" cy="489" r="4.3" fill="#999" stroke="#111" stroke-width="1.6"/><circle cx="1432" cy="489" r="4.3" fill="#999" stroke="#111" stroke-width="1.6"/><circle cx="1445.3" cy="489" r="4.3" fill="#999" stroke="#111" stroke-width="1.6"/><circle cx="1458.6" cy="489" r="4.3" fill="#999" stroke="#111" stroke-width="1.6"/><circle cx="1471.9" cy="489" r="4.3" fill="#999" stroke="#111" stroke-width="1.6"/><circle cx="1553.2" cy="489" r="4.3" fill="#999" stroke="#111" stroke-width="1.6"/><circle cx="1566.5" cy="489" r="4.3" fill="#999" stroke="#111" stroke-width="1.6"/><circle cx="1579.8" cy="489" r="4.3" fill="#999" stroke="#111" stroke-width="1.6"/><circle cx="1593.1" cy="489" r="4.3" fill="#999" stroke="#111" stroke-width="1.6"/><circle cx="1606.4" cy="489" r="4.3" fill="#999" stroke="#111" stroke-width="1.6"/><circle cx="1619.7" cy="489" r="4.3" fill="#999" stroke="#111" stroke-width="1.6"/></g>
<g><circle cx="1257.7" cy="489" r="4.25" fill="#fff" stroke="#000" stroke-width="1.7"/><circle cx="1271" cy="489" r="4.25" fill="#fff" stroke="#000" stroke-width="1.7"/><circle cx="1284.3" cy="489" r="4.25" fill="#fff" stroke="#000" stroke-width="1.7"/><circle cx="1297.6" cy="489" r="4.25" fill="#fff" stroke="#000" stroke-width="1.7"/><circle cx="1310.9" cy="489" r="4.25" fill="#fff" stroke="#000" stroke-width="1.7"/><circle cx="1324.2" cy="489" r="4.25" fill="#fff" stroke="#000" stroke-width="1.7"/><circle cx="1405.4" cy="489" r="4.25" fill="#fff" stroke="#000" stroke-width="1.7"/><circle cx="1418.7" cy="489" r="4.25" fill="#fff" stroke="#000" stroke-width="1.7"/><circle cx="1432" cy="489" r="4.25" fill="#fff" stroke="#000" stroke-width="1.7"/><circle cx="1445.3" cy="489" r="4.25" fill="#fff" stroke="#000" stroke-width="1.7"/><circle cx="1458.6" cy="489" r="4.25" fill="#fff" stroke="#000" stroke-width="1.7"/><circle cx="1471.9" cy="489" r="4.25" fill="#fff" stroke="#000" stroke-width="1.7"/><circle cx="1553.2" cy="489" r="4.25" fill="#fff" stroke="#000" stroke-width="1.7"/><circle cx="1566.5" cy="489" r="4.25" fill="#fff" stroke="#000" stroke-width="1.7"/><circle cx="1579.8" cy="489" r="4.25" fill="#fff" stroke="#000" stroke-width="1.7"/><circle cx="1593.1" cy="489" r="4.25" fill="#fff" stroke="#000" stroke-width="1.7"/><circle cx="1606.4" cy="489" r="4.25" fill="#fff" stroke="#000" stroke-width="1.7"/><circle cx="1619.7" cy="489" r="4.25" fill="#fff" stroke="#000" stroke-width="1.7"/></g>
<g><rect x="1252.55" y="221.85" width="10.3" height="10.3" fill="#000"/><rect x="1265.85" y="232.85" width="10.3" height="10.3" fill="#000"/><rect x="1279.15" y="232.85" width="10.3" height="10.3" fill="#000"/><rect x="1292.45" y="232.85" width="10.3" height="10.3" fill="#000"/><rect x="1305.75" y="225.65" width="10.3" height="10.3" fill="#000"/><rect x="1319.05" y="221.85" width="10.3" height="10.3" fill="#000"/><rect x="1400.25" y="219.15" width="10.3" height="10.3" fill="#000"/><rect x="1413.55" y="220.35" width="10.3" height="10.3" fill="#000"/><rect x="1426.85" y="228.65" width="10.3" height="10.3" fill="#000"/><rect x="1440.15" y="228.65" width="10.3" height="10.3" fill="#000"/><rect x="1453.45" y="220.35" width="10.3" height="10.3" fill="#000"/><rect x="1466.75" y="219.15" width="10.3" height="10.3" fill="#000"/><rect x="1548.05" y="211.85" width="10.3" height="10.3" fill="#000"/><rect x="1561.35" y="217.35" width="10.3" height="10.3" fill="#000"/><rect x="1574.65" y="204.65" width="10.3" height="10.3" fill="#000"/><rect x="1574.65" y="224.65" width="10.3" height="10.3" fill="#000"/><rect x="1587.95" y="219.15" width="10.3" height="10.3" fill="#000"/><rect x="1601.25" y="211.85" width="10.3" height="10.3" fill="#000"/></g>
<g><rect x="1266.55" y="323.25" width="8.9" height="8.9" fill="#999" stroke="#111" stroke-width="1.4"/><rect x="1266.55" y="331.25" width="8.9" height="8.9" fill="#999" stroke="#111" stroke-width="1.4"/><rect x="1279.85" y="327.15" width="8.9" height="8.9" fill="#999" stroke="#111" stroke-width="1.4"/><rect x="1293.15" y="318.35" width="8.9" height="8.9" fill="#999" stroke="#111" stroke-width="1.4"/><rect x="1293.15" y="333.35" width="8.9" height="8.9" fill="#999" stroke="#111" stroke-width="1.4"/><rect x="1279.85" y="341.65" width="8.9" height="8.9" fill="#999" stroke="#111" stroke-width="1.4"/><rect x="1400.95" y="304.75" width="8.9" height="8.9" fill="#999" stroke="#111" stroke-width="1.4"/><rect x="1414.25" y="308.15" width="8.9" height="8.9" fill="#999" stroke="#111" stroke-width="1.4"/><rect x="1427.55" y="310.75" width="8.9" height="8.9" fill="#999" stroke="#111" stroke-width="1.4"/><rect x="1440.85" y="311.55" width="8.9" height="8.9" fill="#999" stroke="#111" stroke-width="1.4"/><rect x="1454.15" y="308.65" width="8.9" height="8.9" fill="#999" stroke="#111" stroke-width="1.4"/><rect x="1467.45" y="304.75" width="8.9" height="8.9" fill="#999" stroke="#111" stroke-width="1.4"/><rect x="1562.05" y="285.25" width="8.9" height="8.9" fill="#999" stroke="#111" stroke-width="1.4"/><rect x="1575.35" y="276.25" width="8.9" height="8.9" fill="#999" stroke="#111" stroke-width="1.4"/><rect x="1588.65" y="278.95" width="8.9" height="8.9" fill="#999" stroke="#111" stroke-width="1.4"/><rect x="1575.35" y="292.95" width="8.9" height="8.9" fill="#999" stroke="#111" stroke-width="1.4"/><rect x="1588.65" y="292.95" width="8.9" height="8.9" fill="#999" stroke="#111" stroke-width="1.4"/><rect x="1575.35" y="284.55" width="8.9" height="8.9" fill="#999" stroke="#111" stroke-width="1.4"/></g>
<g><rect x="1266.65" y="298.45" width="8.7" height="8.7" fill="#fff" stroke="#000" stroke-width="1.6"/><rect x="1279.95" y="306.95" width="8.7" height="8.7" fill="#fff" stroke="#000" stroke-width="1.6"/><rect x="1266.65" y="313.95" width="8.7" height="8.7" fill="#fff" stroke="#000" stroke-width="1.6"/><rect x="1306.55" y="310.65" width="8.7" height="8.7" fill="#fff" stroke="#000" stroke-width="1.6"/><rect x="1279.95" y="323.15" width="8.7" height="8.7" fill="#fff" stroke="#000" stroke-width="1.6"/><rect x="1293.25" y="320.65" width="8.7" height="8.7" fill="#fff" stroke="#000" stroke-width="1.6"/><rect x="1427.65" y="291.05" width="8.7" height="8.7" fill="#fff" stroke="#000" stroke-width="1.6"/><rect x="1414.35" y="305.65" width="8.7" height="8.7" fill="#fff" stroke="#000" stroke-width="1.6"/><rect x="1427.65" y="307.35" width="8.7" height="8.7" fill="#fff" stroke="#000" stroke-width="1.6"/><rect x="1440.95" y="299.65" width="8.7" height="8.7" fill="#fff" stroke="#000" stroke-width="1.6"/><rect x="1440.95" y="308.45" width="8.7" height="8.7" fill="#fff" stroke="#000" stroke-width="1.6"/><rect x="1427.65" y="321.05" width="8.7" height="8.7" fill="#fff" stroke="#000" stroke-width="1.6"/><rect x="1575.45" y="284.65" width="8.7" height="8.7" fill="#fff" stroke="#000" stroke-width="1.6"/><rect x="1548.85" y="299.05" width="8.7" height="8.7" fill="#fff" stroke="#000" stroke-width="1.6"/><rect x="1562.15" y="306.45" width="8.7" height="8.7" fill="#fff" stroke="#000" stroke-width="1.6"/><rect x="1575.45" y="308.45" width="8.7" height="8.7" fill="#fff" stroke="#000" stroke-width="1.6"/><rect x="1588.75" y="301.15" width="8.7" height="8.7" fill="#fff" stroke="#000" stroke-width="1.6"/><rect x="1575.45" y="327.85" width="8.7" height="8.7" fill="#fff" stroke="#000" stroke-width="1.6"/></g>
<path d="M1210.9 132.45V384.5M1210.9 391.8V507.5H1654.9" stroke="#000" stroke-width="1.9" fill="none" stroke-linejoin="miter"/>
<path d="M1203.3 384.5H1218.2M1203.3 391.8H1218.2" stroke="#000" stroke-width="1.9" fill="none"/>
<line x1="1202" y1="133.3" x2="1210.9" y2="133.3" stroke="#000" stroke-width="1.9"/>
<text x="1198.6" y="139.9" font-size="20.7" text-anchor="end">4000</text>
<line x1="1202" y1="276.8" x2="1210.9" y2="276.8" stroke="#000" stroke-width="1.9"/>
<text x="1198.6" y="283.4" font-size="20.7" text-anchor="end">2000</text>
<text x="1198.6" y="398.4" font-size="20.7" text-anchor="end">500</text>
<line x1="1202" y1="489" x2="1210.9" y2="489" stroke="#000" stroke-width="1.9"/>
<text x="1198.6" y="495.6" font-size="20.7" text-anchor="end">0</text>
<line x1="1284.3" y1="507.5" x2="1284.3" y2="516" stroke="#000" stroke-width="1.9"/>
<text x="1284.3" y="558" font-size="22" text-anchor="middle">D2</text>
<line x1="1432" y1="507.5" x2="1432" y2="516" stroke="#000" stroke-width="1.9"/>
<text x="1432" y="558" font-size="22" text-anchor="middle">D4</text>
<line x1="1579.8" y1="507.5" x2="1579.8" y2="516" stroke="#000" stroke-width="1.9"/>
<text x="1579.8" y="558" font-size="22" text-anchor="middle">D8</text>
</g>
<text x="147.6" y="24.7" font-size="35.5">A</text>
<text x="690.5" y="25" font-size="35">B</text>
<text x="1210.8" y="26.8" font-size="36">C</text>
<text x="323.4" y="79.7" font-size="32" font-style="italic" textLength="62.6" lengthAdjust="spacingAndGlyphs">Liver</text>
<text x="890" y="86.3" font-size="28" font-style="italic" text-anchor="middle">Spleen</text>
<text x="1432.7" y="102" font-size="28" font-style="italic" text-anchor="middle">Small intestine</text>
<text transform="translate(25.2 310.5) rotate(-90)" font-size="27" text-anchor="middle">UFC x 10<tspan font-size="17" dy="-12">5</tspan></text>
<path d="M1671.1 171.5H1703.6" stroke="#7a7a7a" stroke-width="1" stroke-dasharray="1 1.3" fill="none"/>
<rect x="1682.3" y="166.5" width="10" height="10" fill="#000"/>
<text x="1720" y="181.6" font-size="23" textLength="286.8" lengthAdjust="spacingAndGlyphs" xml:space="preserve"><tspan font-style="italic">P.b</tspan>_ANKA + S_Typhi 10<tspan font-size="17" dy="-10">5</tspan><tspan dy="10"> CFU</tspan></text>
<path d="M1671.1 220.2H1703.6" stroke="#7a7a7a" stroke-width="1" stroke-dasharray="1 1.3" fill="none"/>
<rect x="1683" y="215.9" width="8.6" height="8.6" fill="#999" stroke="#111" stroke-width="1.4"/>
<text x="1720" y="230.3" font-size="23" textLength="286.8" lengthAdjust="spacingAndGlyphs" xml:space="preserve"><tspan font-style="italic">P.b</tspan>_ANKA + S_Typhi 10<tspan font-size="17" dy="-10">4</tspan><tspan dy="10"> CFU</tspan></text>
<path d="M1671.1 267.8H1703.6" stroke="#7a7a7a" stroke-width="1" stroke-dasharray="1 1.3" fill="none"/>
<rect x="1683.1" y="263.6" width="8.4" height="8.4" fill="#fff" stroke="#000" stroke-width="1.6"/>
<text x="1720" y="277.9" font-size="23" textLength="286.8" lengthAdjust="spacingAndGlyphs" xml:space="preserve"><tspan font-style="italic">P.b</tspan>_ANKA + S_Typhi 10<tspan font-size="17" dy="-10">3</tspan><tspan dy="10"> CFU</tspan></text>
<path d="M1671.1 310H1703.6" stroke="#7a7a7a" stroke-width="1" stroke-dasharray="1 1.3" fill="none"/>
<circle cx="1687.3" cy="310" r="5" fill="#000"/>
<text x="1720.2" y="320.1" font-size="23" textLength="160.3" lengthAdjust="spacingAndGlyphs" xml:space="preserve">S_Typhi  10<tspan font-size="17" dy="-10">5</tspan><tspan dy="10"> CFU</tspan></text>
<path d="M1671.1 355.7H1703.6" stroke="#7a7a7a" stroke-width="1" stroke-dasharray="1 1.3" fill="none"/>
<circle cx="1687.3" cy="355.7" r="4.2" fill="#999" stroke="#111" stroke-width="1.6"/>
<text x="1720.2" y="365.8" font-size="23" textLength="160.3" lengthAdjust="spacingAndGlyphs" xml:space="preserve">S_Typhi  10<tspan font-size="17" dy="-10">4</tspan><tspan dy="10"> CFU</tspan></text>
<path d="M1672.7 401.7H1705.2" stroke="#7a7a7a" stroke-width="1" stroke-dasharray="1 1.3" fill="none"/>
<circle cx="1688.9" cy="401.7" r="4.15" fill="#fff" stroke="#000" stroke-width="1.7"/>
<text x="1721.8" y="411.8" font-size="23" textLength="160.3" lengthAdjust="spacingAndGlyphs" xml:space="preserve">S_Typhi  10<tspan font-size="17" dy="-10">3</tspan><tspan dy="10"> CFU</tspan></text>
</svg>
</body>
</html>
